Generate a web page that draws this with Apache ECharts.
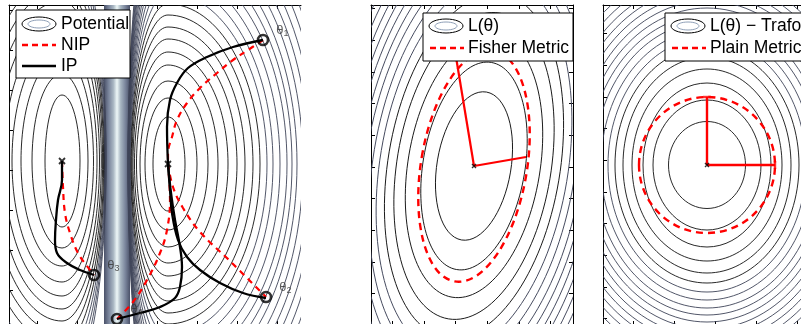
<!DOCTYPE html>
<html><head><meta charset="utf-8">
<script src="https://cdn.jsdelivr.net/npm/echarts@6/dist/echarts.min.js"></script>
<style>html,body{margin:0;padding:0;background:#fff}#c{width:801px;height:324px}</style>
</head><body><div id="c"></div><script>
// ---------- data (image-pixel coordinate units of each panel) ----------
// Panel 1: double-well potential
const p1LeftMin = [62, 161];
const p1RightMin = [168, 164];
const p1LeftWellLeft  = [17, 30, 41, 50, 58, 65, 72, 79, 86, 93, 100, 107, 114];
const p1LeftWellRight = [18, 26, 31.5, 35, 37.5, 39.3, 40.6, 41.6, 42.4, 43, 43.5, 43.9, 44.2];
const p1LeftWellVert  = [66, 87, 105, 121, 135, 148, 160, 172, 184, 196, 208, 220, 232];
const p1RightWellLeft  = [15, 23, 28, 31.5, 33.5, 35, 36, 36.8, 37.4, 37.9, 38.3, 38.6, 38.9, 39.1, 39.3, 39.5, 39.6, 39.7, 39.8, 39.9, 40, 40.1];
const p1RightWellRight = [17, 29, 40, 50, 60, 69, 77, 85, 92, 99, 105, 112, 119, 124, 129, 135, 141, 147, 153, 159, 165, 171];
const p1RightWellVert  = [47, 66, 83, 99, 112, 125, 137, 149, 160, 171, 182, 193, 204, 215, 226, 237, 248, 259, 270, 281, 292, 303];
const p1Ridge = [104, 130];
const ipTheta1  = [[263,40],[233,47],[207,57],[188,68],[177,83],[170,100],[167,127],[168,164]];
const nipTheta1 = [[263,40],[248,50],[233,60],[217,73],[200,88],[187,103],[177,120],[172,137],[168,153],[168,164]];
const ipTheta2  = [[168,164],[170,190],[172,213],[178,240],[187,257],[200,270],[220,283],[243,293],[266,298]];
const nipTheta2 = [[168,164],[173,187],[183,208],[200,232],[230,261],[266,297]];
const ipTheta3  = [[62,161],[62,180],[58,200],[56,220],[55,240],[57,253],[67,263],[80,270],[94,275]];
const nipTheta3 = [[62,161],[63,187],[65,213],[70,233],[78,253],[90,270],[94,275]];
const ipTheta4  = [[117,319],[140,313],[160,307],[175,298],[180,287],[182,267],[180,247],[175,220],[171,193],[168,164]];
const nipTheta4 = [[117,319],[133,302],[147,280],[160,253],[167,230],[170,200],[168,164]];
const thetaPoints = [[263,40],[266,297],[94,275],[117,319]];
const thetaNames = ['1','2','3','4'];
const p1XTicks = [37, 77, 117, 157, 197, 237, 277];
const p1YTicks = [10, 50, 90, 130, 170, 210, 250, 290];

// Panel 2: L(theta) with Fisher metric
const p2Center = [474, 166];
const p2Tilt = -9.5; // degrees (top leans left)
const p2Minor = [37, 51, 66, 77, 86, 94, 101, 108, 114, 120, 126, 132, 138, 144, 150, 156];
const p2Major = [75, 105, 133, 155, 174, 190, 204, 217, 229, 241, 253, 265, 277, 289, 301, 313];
const p2Fisher = [53, 117];
const p2AxisMajor = [[474,166],[455,51]];
const p2AxisMinor = [[474,166],[526,157]];
const p2XTicks = [392, 424, 455, 487, 519, 550];
const p2YTicks = [8, 40, 72, 103, 135, 167, 198, 230, 262, 293];

// Panel 3: transformed L(theta) with plain metric
const p3Center = [707, 165];
const p3A = [38.5, 54, 64, 75, 84, 92, 99, 106, 113, 119, 125, 131, 137, 143, 149, 155, 161, 167];
const p3B = [43.5, 65, 82, 96, 108, 118, 127, 135, 143, 150, 157, 164, 171, 178, 185, 192, 199, 206];
const p3Plain = 68;
const p3AxisV = [[707,165],[707,97]];
const p3AxisH = [[707,165],[775,165]];
const p3XTicks = [633, 674, 715, 756, 797];
const p3YTicks = [33, 65, 97, 128, 160, 192, 223, 255, 287, 318];

// ---------- chart ----------
const FONT = '"Liberation Sans", Arial, Helvetica, sans-serif';
const chart = echarts.init(document.getElementById('c'), null, {renderer: 'canvas'});

function contourColor(i, nBlack) { return i < nBlack ? '#111' : '#3e4458'; }

const grids = [
  {left: 9, top: 5, width: 292, height: 320, outerBoundsMode: 'none', containLabel: false},
  {left: 371, top: 5, width: 202, height: 320, outerBoundsMode: 'none', containLabel: false},
  {left: 603, top: 5, width: 230, height: 320, outerBoundsMode: 'none', containLabel: false}
];
const ranges = [[9, 301], [371, 573], [603, 833]];
const xt = [p1XTicks, p2XTicks, p3XTicks];
const yt = [p1YTicks, p2YTicks, p3YTicks];
const xAxis = [], yAxis = [];
grids.forEach((g, i) => {
  ['bottom', 'top'].forEach(pos => xAxis.push({
    gridIndex: i, type: 'value', min: ranges[i][0], max: ranges[i][1], position: pos,
    axisLine: {show: true, onZero: false, lineStyle: {color: '#000', width: 1}},
    axisTick: {show: true, inside: true, length: 4, customValues: xt[i], lineStyle: {color: '#000'}},
    axisLabel: {show: false}, splitLine: {show: false}
  }));
  ['left', 'right'].forEach(pos => yAxis.push({
    gridIndex: i, type: 'value', min: 5, max: 325, inverse: true, position: pos,
    axisLine: {show: !(i === 0 && pos === 'right'), onZero: false, lineStyle: {color: '#000', width: 1}},
    axisTick: {show: !(i === 0 && pos === 'right'), inside: true, length: 4, customValues: yt[i], lineStyle: {color: '#000'}},
    axisLabel: {show: false}, splitLine: {show: false}
  }));
});

function asymEllipse(params, api) {
  const c = api.coord([api.value(0), api.value(1)]);
  const sL = Math.abs(api.size([api.value(2), 0])[0]);
  const sR = Math.abs(api.size([api.value(3), 0])[0]);
  const sV = Math.abs(api.size([0, api.value(4)])[1]);
  const k = 0.5523, x = c[0], y = c[1];
  const d = `M ${x+sR} ${y} C ${x+sR} ${y+k*sV} ${x+k*sR} ${y+sV} ${x} ${y+sV} ` +
            `C ${x-k*sL} ${y+sV} ${x-sL} ${y+k*sV} ${x-sL} ${y} ` +
            `C ${x-sL} ${y-k*sV} ${x-k*sL} ${y-sV} ${x} ${y-sV} ` +
            `C ${x+k*sR} ${y-sV} ${x+sR} ${y-k*sV} ${x+sR} ${y} Z`;
  return {type: 'path', shape: {pathData: d},
    style: {fill: 'none', stroke: contourColor(api.value(5), 9), lineWidth: 0.9}};
}
function rotEllipse(colorFn, width, dash) {
  return function (params, api) {
    const c = api.coord([api.value(0), api.value(1)]);
    const rx = Math.abs(api.size([api.value(2), 0])[0]);
    const ry = Math.abs(api.size([0, api.value(3)])[1]);
    return {type: 'ellipse', x: c[0], y: c[1], rotation: api.value(4) * Math.PI / 180,
      shape: {cx: 0, cy: 0, rx: rx, ry: ry},
      style: {fill: 'none', stroke: colorFn(api.value(5)), lineWidth: width, lineDash: dash || null}};
  };
}

const series = [];
// ridge band
series.push({type: 'custom', xAxisIndex: 0, yAxisIndex: 0, clip: true, z: 1,
  data: [[p1Ridge[0], p1Ridge[1]]],
  renderItem: (params, api) => {
    const a = api.coord([api.value(0), 5]);
    const b = api.coord([api.value(1), 325]);
    return {type: 'rect', shape: {x: a[0], y: Math.min(a[1], b[1]), width: b[0] - a[0], height: Math.abs(b[1] - a[1])},
      style: {fill: new echarts.graphic.LinearGradient(0, 0, 1, 0, [
        {offset: 0, color: '#4a5168'}, {offset: 0.18, color: '#7a859c'},
        {offset: 0.36, color: '#a8b6c2'}, {offset: 0.5, color: '#eef8f8'},
        {offset: 0.64, color: '#a8b6c2'}, {offset: 0.82, color: '#7a859c'},
        {offset: 1, color: '#4a5168'}])}};
  }});
// panel 1 contours
series.push({type: 'custom', xAxisIndex: 0, yAxisIndex: 0, clip: true, z: 2, renderItem: asymEllipse,
  data: p1LeftWellLeft.map((v, i) => [p1LeftMin[0], p1LeftMin[1], v, p1LeftWellRight[i], p1LeftWellVert[i], i])});
series.push({type: 'custom', xAxisIndex: 0, yAxisIndex: 0, clip: true, z: 2, renderItem: asymEllipse,
  data: p1RightWellLeft.map((v, i) => [p1RightMin[0], p1RightMin[1], v, p1RightWellRight[i], p1RightWellVert[i], i])});
// panel 1 paths
function pathSeries(data, isIP) {
  return {type: 'line', xAxisIndex: 0, yAxisIndex: 0, data: data, smooth: 0.4, symbol: 'none', z: isIP ? 6 : 5,
    lineStyle: isIP ? {color: '#000', width: 2.3} : {color: '#f00', width: 2.2, type: [6, 5]}, silent: true};
}
[nipTheta1, nipTheta2, nipTheta3, nipTheta4].forEach(d => series.push(pathSeries(d, false)));
[ipTheta1, ipTheta2, ipTheta3, ipTheta4].forEach(d => series.push(pathSeries(d, true)));
// theta markers
series.push({type: 'scatter', xAxisIndex: 0, yAxisIndex: 0, z: 8, symbol: 'circle', symbolSize: 10,
  itemStyle: {color: 'rgba(255,255,255,0)', borderColor: '#000', borderWidth: 2.6},
  data: thetaPoints.map((p, i) => ({value: p, name: thetaNames[i]})),
  label: {show: true, position: 'right', distance: 7, offset: [0, -10],
    formatter: p => '{t|θ}{s|' + p.name + '}',
    rich: {t: {fontSize: 13, fontFamily: FONT, color: '#333'}, s: {fontSize: 9, fontFamily: FONT, color: '#333', padding: [7, 0, 0, 0]}}}});
const xSym = 'path://M0,0L10,10M10,0L0,10';
series.push({type: 'scatter', xAxisIndex: 0, yAxisIndex: 0, z: 9, symbol: xSym, symbolSize: 6,
  itemStyle: {color: 'none', borderColor: '#000', borderWidth: 1.8}, data: [p1LeftMin, p1RightMin]});

// panel 2
series.push({type: 'custom', xAxisIndex: 2, yAxisIndex: 2, clip: true, z: 2,
  renderItem: rotEllipse(i => contourColor(i, 5), 0.9),
  data: p2Minor.map((v, i) => [p2Center[0], p2Center[1], v, p2Major[i], p2Tilt, i])});
series.push({type: 'custom', xAxisIndex: 2, yAxisIndex: 2, clip: true, z: 4,
  renderItem: rotEllipse(() => '#f00', 2.4, [7, 5]),
  data: [[p2Center[0], p2Center[1], p2Fisher[0], p2Fisher[1], p2Tilt, 0]]});
[p2AxisMajor, p2AxisMinor].forEach(d => series.push({type: 'line', xAxisIndex: 2, yAxisIndex: 2, data: d,
  symbol: 'none', z: 5, lineStyle: {color: '#f00', width: 2.2}}));
series.push({type: 'scatter', xAxisIndex: 2, yAxisIndex: 2, z: 9, symbol: xSym, symbolSize: 4,
  itemStyle: {color: 'none', borderColor: '#000', borderWidth: 1.4}, data: [p2Center]});

// panel 3
series.push({type: 'custom', xAxisIndex: 4, yAxisIndex: 4, clip: true, z: 2,
  renderItem: rotEllipse(i => contourColor(i, 6), 0.9),
  data: p3A.map((v, i) => [p3Center[0], p3Center[1], v, p3B[i], 0, i])});
series.push({type: 'custom', xAxisIndex: 4, yAxisIndex: 4, clip: true, z: 4,
  renderItem: rotEllipse(() => '#f00', 2.4, [7, 5]),
  data: [[p3Center[0], p3Center[1], p3Plain, p3Plain, 0, 0]]});
[p3AxisV, p3AxisH].forEach(d => series.push({type: 'line', xAxisIndex: 4, yAxisIndex: 4, data: d,
  symbol: 'none', z: 5, lineStyle: {color: '#f00', width: 2.4}}));
series.push({type: 'scatter', xAxisIndex: 4, yAxisIndex: 4, z: 6, symbol: 'rect', symbolSize: [8, 2.4],
  itemStyle: {color: '#f00'}, data: [p3AxisV[1]]});
series.push({type: 'scatter', xAxisIndex: 4, yAxisIndex: 4, z: 6, symbol: 'rect', symbolSize: [2.4, 8],
  itemStyle: {color: '#f00'}, data: [p3AxisH[1]]});
series.push({type: 'scatter', xAxisIndex: 4, yAxisIndex: 4, z: 9, symbol: xSym, symbolSize: 4,
  itemStyle: {color: 'none', borderColor: '#000', borderWidth: 1.4}, data: [p3Center]});

// ---------- legends (drawn as graphic boxes) ----------
function legendBox(x, y, w, h, items) {
  const Z = {zlevel: 1, z: 100};
  const ch = [Object.assign({type: 'rect', shape: {x: 0, y: 0, width: w, height: h}, style: {fill: '#fff', stroke: '#000', lineWidth: 1}}, Z)];
  items.forEach(it => {
    if (it.kind === 'ellipse') {
      ch.push(Object.assign({type: 'ellipse', shape: {cx: it.ix + 17, cy: it.y, rx: 17, ry: 7}, style: {fill: '#fff', stroke: '#000', lineWidth: 1}}, Z));
      ch.push(Object.assign({type: 'ellipse', shape: {cx: it.ix + 17, cy: it.y, rx: 11, ry: 4}, style: {fill: 'none', stroke: '#8fa0b8', lineWidth: 1}}, Z));
    } else {
      ch.push(Object.assign({type: 'line', shape: {x1: it.ix, y1: it.y, x2: it.ix + 34, y2: it.y},
        style: {stroke: it.color, lineWidth: 2.3, lineDash: it.dash ? [6, 4] : null}}, Z));
    }
    ch.push(Object.assign({type: 'text', x: it.tx, y: it.y, style: {text: it.text, fill: '#000', font: '17.5px ' + FONT, verticalAlign: 'middle'}}, Z));
  });
  return {type: 'group', x: x, y: y, zlevel: 1, z: 100, children: ch};
}
const graphic = {elements: [
  legendBox(16, 10, 114, 68, [
    {kind: 'ellipse', ix: 6, y: 14, tx: 45, text: 'Potential'},
    {kind: 'line', ix: 6, y: 35, tx: 45, text: 'NIP', color: '#f00', dash: true},
    {kind: 'line', ix: 6, y: 56, tx: 45, text: 'IP', color: '#000', dash: false}]),
  legendBox(423, 13, 150, 48, [
    {kind: 'ellipse', ix: 6, y: 13, tx: 45, text: 'L(θ)'},
    {kind: 'line', ix: 7, y: 35, tx: 45, text: 'Fisher Metric', color: '#f00', dash: true}]),
  legendBox(665, 13, 170, 48, [
    {kind: 'ellipse', ix: 6, y: 13, tx: 45, text: 'L(θ) − Trafo'},
    {kind: 'line', ix: 7, y: 35, tx: 45, text: 'Plain Metric', color: '#f00', dash: true}])
]};

chart.setOption({animation: false, backgroundColor: '#fff', grid: grids, xAxis: xAxis, yAxis: yAxis, series: series, graphic: graphic});
</script></body></html>
